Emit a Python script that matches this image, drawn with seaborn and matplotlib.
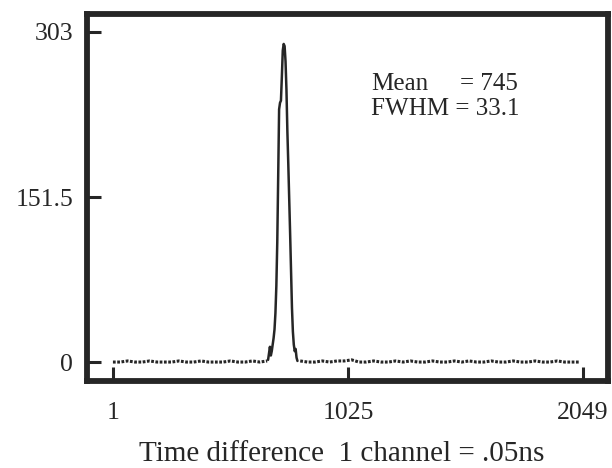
import matplotlib
matplotlib.use("Agg")
import matplotlib.pyplot as plt
import seaborn as sns
import pandas as pd

# Time-difference spectrum (counts per channel)
left_channels = [1, 33, 65, 97, 129, 161, 193, 225, 257, 289, 321, 353, 385,
                 417, 449, 481, 513, 545, 577, 609, 641, 673]
left_counts = [0, 0, 1, 0, 0, 1, 0, 0, 0, 1, 0, 0, 1, 0, 0, 0, 1, 0, 0, 1, 0, 1]

peak_channels = [677, 681, 685, 689, 693, 697, 701, 705, 709, 713, 717, 721,
                 725, 729, 733, 737, 741, 745, 749, 753, 757, 761, 765, 769,
                 773, 777, 781, 785, 789, 793, 797, 801, 805]
peak_counts = [2, 8, 14, 6, 10, 16, 22, 30, 45, 70, 110, 170, 232, 238, 240,
               262, 286, 292, 290, 276, 250, 212, 182, 150, 118, 84, 50, 28,
               16, 10, 12, 4, 1]

right_channels = [817, 849, 881, 913, 945, 977, 1009, 1041, 1073, 1105, 1137,
                  1169, 1201, 1233, 1265, 1297, 1329, 1361, 1393, 1425, 1457,
                  1489, 1521, 1553, 1585, 1617, 1649, 1681, 1713, 1745, 1777,
                  1809, 1841, 1873, 1905, 1937, 1969, 2001, 2033]
right_counts = [1, 0, 0, 1, 0, 1, 1, 2, 0, 0, 1, 0, 0, 1, 0, 1, 0, 0, 1, 0,
                0, 1, 0, 1, 0, 0, 1, 0, 0, 1, 0, 0, 1, 0, 0, 1, 0, 0, 0]

x_ticks = [1, 1025, 2049]
y_ticks = [0, 151.5, 303]
y_tick_labels = ["0", "151.5", "303"]
mean_label, mean_value = "Mean", "= 745"
fwhm_text = "FWHM = 33.1"
x_label = "Time difference  1 channel = .05ns"

sns.set_theme(style="white")
plt.rcParams["font.family"] = ["Liberation Serif", "DejaVu Serif"]
plt.rcParams["xtick.direction"] = "in"
plt.rcParams["ytick.direction"] = "in"
plt.rcParams["xtick.bottom"] = True
plt.rcParams["ytick.left"] = True

ink = "#262626"
fig = plt.figure(figsize=(6.12, 4.68), dpi=100)
ax = fig.add_axes([87 / 612, 1 - 381 / 468, (608 - 87) / 612, (381 - 14) / 468])

left = pd.DataFrame({"channel": left_channels, "counts": left_counts})
peak = pd.DataFrame({"channel": peak_channels, "counts": peak_counts})
right = pd.DataFrame({"channel": right_channels, "counts": right_counts})

dotted = (0, (0.9, 0.5))
sns.lineplot(data=left, x="channel", y="counts", ax=ax, color=ink,
             linewidth=2.2, linestyle=dotted, estimator=None)
sns.lineplot(data=right, x="channel", y="counts", ax=ax, color=ink,
             linewidth=2.2, linestyle=dotted, estimator=None)
sns.lineplot(data=peak, x="channel", y="counts", ax=ax, color=ink,
             linewidth=1.8, estimator=None)

ax.set_xlim(-112, 2158)
ax.set_ylim(-17.4, 319.5)
ax.set_xticks(x_ticks)
ax.set_xticklabels([str(t) for t in x_ticks])
ax.set_yticks(y_ticks)
ax.set_yticklabels(y_tick_labels)
ax.tick_params(direction="in", length=10, width=2.2, color=ink,
               labelsize=18.5, labelcolor=ink, bottom=True, left=True)
ax.tick_params(axis="x", pad=15)
ax.tick_params(axis="y", pad=10)
for s in ax.spines.values():
    s.set_linewidth(4.2)
    s.set_color(ink)
    s.set_visible(True)

ax.set_xlabel(x_label, fontsize=21, color=ink, va="baseline")
ax.xaxis.set_label_coords((342 - 87) / 521, (381 - 461) / 367)
ax.set_ylabel("")

tx = (371 - 87) / 521
ax.text(tx, (381 - 90) / 367, mean_label, transform=ax.transAxes,
        fontsize=18, color=ink, va="baseline", ha="left")
ax.text((460 - 87) / 521, (381 - 90) / 367, mean_value, transform=ax.transAxes,
        fontsize=18, color=ink, va="baseline", ha="left")
ax.text(tx, (381 - 115) / 367, fwhm_text, transform=ax.transAxes,
        fontsize=18, color=ink, va="baseline", ha="left")

fig.savefig("out.png", dpi=100)
